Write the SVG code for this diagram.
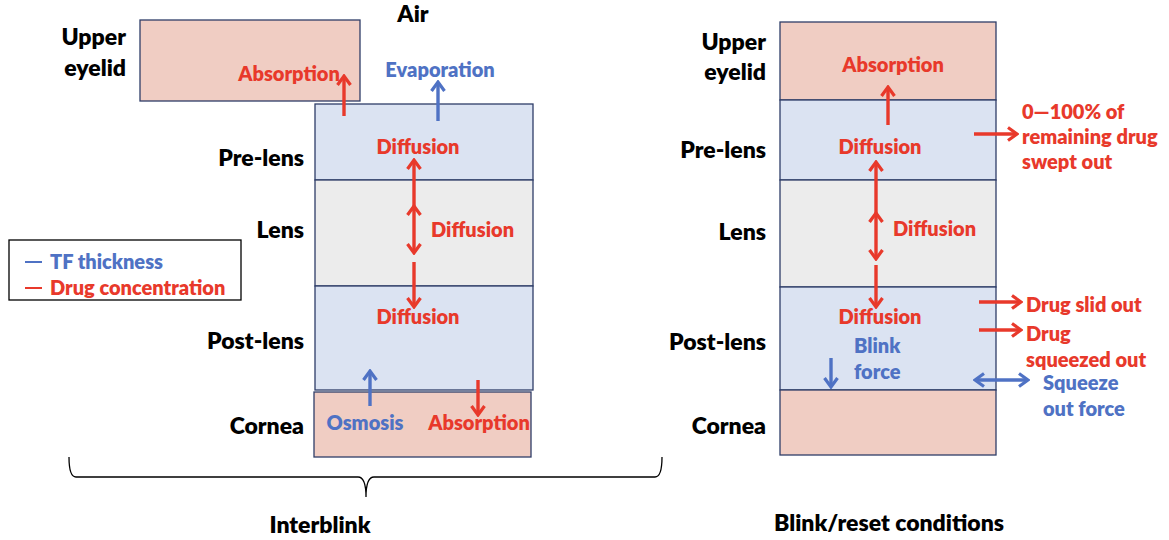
<svg xmlns="http://www.w3.org/2000/svg" width="1169" height="540" viewBox="0 0 1169 540">
<defs>
<style>
text{font-family:"Lato","Open Sans","Liberation Sans",sans-serif;font-weight:800}
.lbl{font-size:23px;fill:#000;text-anchor:end}
.r{fill:#E8392B;font-size:20px}
.b{fill:#4F72C4;font-size:20px}
.c{text-anchor:middle}
.pink{fill:#F0CDC3;stroke:#2E3D68;stroke-width:1.3}
.blue{fill:#DBE3F2;stroke:#2E3D68;stroke-width:1.3}
.grey{fill:#ECECEC;stroke:#2E3D68;stroke-width:1.3}
.ar{stroke:#E8392B;stroke-width:3.4;fill:none}
.ab{stroke:#4F72C4;stroke-width:3.4;fill:none}
</style>
<marker id="hr" viewBox="0 0 12 16" refX="10" refY="8" markerWidth="12" markerHeight="16" markerUnits="userSpaceOnUse" orient="auto-start-reverse"><path d="M1,1.5 L10,8 L1,14.5" fill="none" stroke="#E8392B" stroke-width="3.2"/></marker>
<marker id="hb" viewBox="0 0 12 16" refX="10" refY="8" markerWidth="12" markerHeight="16" markerUnits="userSpaceOnUse" orient="auto-start-reverse"><path d="M1,1.5 L10,8 L1,14.5" fill="none" stroke="#4F72C4" stroke-width="3.2"/></marker>
</defs>
<rect width="1169" height="540" fill="#fff"/>

<!-- Left: Interblink -->
<g id="left-labels">
<text x="413" y="22" class="lbl" style="text-anchor:middle">Air</text>
<text x="126" y="45" class="lbl">Upper</text>
<text x="126" y="76" class="lbl">eyelid</text>
<text x="304" y="166" class="lbl">Pre-lens</text>
<text x="304" y="238" class="lbl">Lens</text>
<text x="304" y="349" class="lbl">Post-lens</text>
<text x="304" y="434" class="lbl">Cornea</text>
</g>
<g id="L-upper-eyelid"><rect x="140" y="20" width="220" height="81" class="pink"/><text x="289" y="81" class="r c">Absorption</text></g>
<g id="L-pre-lens"><rect x="315" y="104" width="218" height="76" class="blue"/><text x="418" y="154" class="r c">Diffusion</text></g>
<g id="L-lens"><rect x="315" y="180" width="218" height="106" class="grey"/><text x="431" y="237" class="r">Diffusion</text></g>
<g id="L-post-lens"><rect x="315" y="286" width="218" height="104" class="blue"/><text x="418" y="324" class="r c">Diffusion</text></g>
<g id="L-cornea"><rect x="314" y="392" width="217" height="65" class="pink"/><text x="365" y="430" class="b c">Osmosis</text><text x="479" y="430" class="r c">Absorption</text></g>
<text x="440" y="77" class="b c">Evaporation</text>
<g id="legend"><rect x="9" y="240" width="232" height="60" fill="#fff" stroke="#000" stroke-width="1.3"/>
<line x1="25" y1="262" x2="42" y2="262" stroke="#4F72C4" stroke-width="2"/><text x="50" y="269" class="b">TF thickness</text>
<line x1="25" y1="288" x2="42" y2="288" stroke="#E8392B" stroke-width="2"/><text x="50" y="295" class="r">Drug concentration</text></g>

<!-- Right: Blink/reset -->
<g id="right-labels">
<text x="766" y="50" class="lbl">Upper</text>
<text x="766" y="80" class="lbl">eyelid</text>
<text x="766" y="158" class="lbl">Pre-lens</text>
<text x="766" y="240" class="lbl">Lens</text>
<text x="766" y="350" class="lbl">Post-lens</text>
<text x="766" y="434" class="lbl">Cornea</text>
</g>
<g id="R-upper-eyelid"><rect x="780" y="22" width="216" height="78" class="pink"/><text x="893" y="72" class="r c">Absorption</text></g>
<g id="R-pre-lens"><rect x="780" y="100" width="216" height="80" class="blue"/><text x="880" y="154" class="r c">Diffusion</text></g>
<g id="R-lens"><rect x="780" y="180" width="216" height="107" class="grey"/><text x="893" y="236" class="r">Diffusion</text></g>
<g id="R-post-lens"><rect x="780" y="287" width="216" height="103" class="blue"/><text x="880" y="324" class="r c">Diffusion</text><text x="854" y="353" class="b">Blink</text><text x="854" y="379" class="b">force</text></g>
<g id="R-cornea"><rect x="780" y="390" width="216" height="65" class="pink"/></g>
<g id="R-outside">
<text x="1022" y="119" class="r">0—100% of</text>
<text x="1022" y="144" class="r">remaining drug</text>
<text x="1022" y="169" class="r">swept out</text>
<text x="1026" y="312" class="r">Drug slid out</text>
<text x="1026" y="341" class="r">Drug</text>
<text x="1026" y="367" class="r">squeezed out</text>
<text x="1043" y="390" class="b">Squeeze</text>
<text x="1043" y="416" class="b">out force</text>
</g>

<g id="connectors">
<line x1="344" y1="116" x2="344" y2="76" class="ar" marker-end="url(#hr)"/>
<line x1="438" y1="121" x2="438" y2="82" class="ab" marker-end="url(#hb)"/>
<line x1="414" y1="211" x2="414" y2="160" class="ar" marker-end="url(#hr)"/>
<line x1="414" y1="206" x2="414" y2="253" class="ar" marker-start="url(#hr)" marker-end="url(#hr)"/>
<line x1="414" y1="262" x2="414" y2="307" class="ar" marker-end="url(#hr)"/>
<line x1="370" y1="406" x2="370" y2="371" class="ab" marker-end="url(#hb)"/>
<line x1="478" y1="380" x2="478" y2="415" class="ar" marker-end="url(#hr)"/>

<line x1="888" y1="125" x2="888" y2="87" class="ar" marker-end="url(#hr)"/>
<line x1="876" y1="213" x2="876" y2="162" class="ar" marker-end="url(#hr)"/>
<line x1="876" y1="213" x2="876" y2="259" class="ar" marker-start="url(#hr)" marker-end="url(#hr)"/>
<line x1="876" y1="265" x2="876" y2="307" class="ar" marker-end="url(#hr)"/>
<line x1="831" y1="358" x2="831" y2="387" class="ab" marker-end="url(#hb)"/>
<line x1="974" y1="134" x2="1017" y2="134" class="ar" marker-end="url(#hr)"/>
<line x1="979" y1="302" x2="1021" y2="302" class="ar" marker-end="url(#hr)"/>
<line x1="979" y1="330" x2="1021" y2="330" class="ar" marker-end="url(#hr)"/>
<line x1="975" y1="380" x2="1028" y2="380" class="ab" marker-start="url(#hb)" marker-end="url(#hb)"/>
</g>

<g id="brace"><path d="M69,457 Q69,477 76,477 L358,477 Q366,477 366,497 Q366,477 374,477 L655,477 Q662,477 662,457" fill="none" stroke="#000" stroke-width="1.3"/></g>
<text x="320" y="533" class="lbl" style="text-anchor:middle">Interblink</text>
<text x="889" y="531" class="lbl" style="text-anchor:middle">Blink/reset conditions</text>
</svg>
